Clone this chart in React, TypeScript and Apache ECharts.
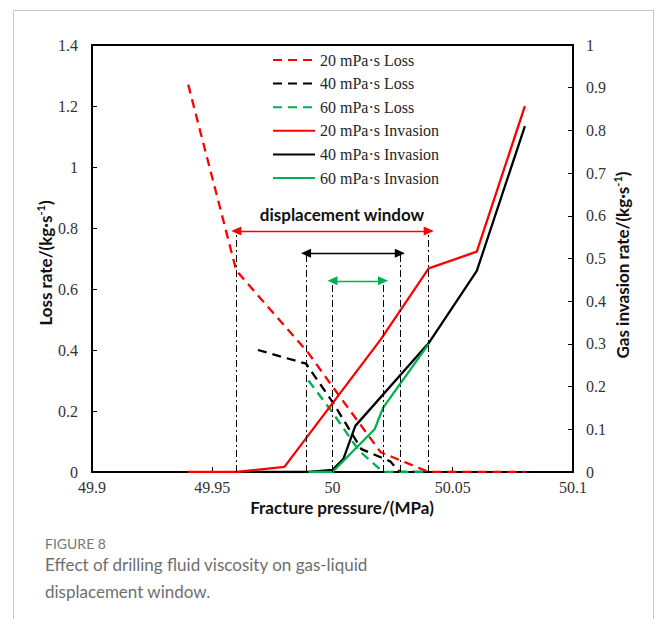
import React, { useEffect, useRef } from 'react';
import * as echarts from 'echarts';

const RED = '#ff0000';
const BLACK = '#000000';
const GREEN = '#00b050';

// Fracture pressure (MPa), Loss rate (kg/s) — left axis
const loss20 = [[49.94, 1.27], [49.96, 0.66], [49.99, 0.39], [50.0, 0.28], [50.02, 0.065], [50.04, 0], [50.06, 0], [50.08, 0]];
const loss40 = [[49.969, 0.4], [49.989, 0.355], [50.0, 0.23], [50.012, 0.075], [50.024, 0.035], [50.028, 0], [50.04, 0]];
const loss60 = [[49.99, 0.3], [50.0, 0.195], [50.011, 0.07], [50.021, 0], [50.04, 0]];

// Gas invasion rate (kg/s) — right axis
const inv20 = [[49.94, 0], [49.96, 0], [49.98, 0.012], [50.02, 0.31], [50.04, 0.477], [50.06, 0.516], [50.08, 0.857]];
const inv40 = [[49.97, 0], [49.99, 0], [50.0, 0.005], [50.0045, 0.03], [50.0095, 0.108], [50.04, 0.302], [50.06, 0.471], [50.08, 0.81]];
const inv60 = [[49.99, 0], [50.0, 0], [50.0175, 0.1], [50.021, 0.15], [50.04, 0.3]];

// Displacement windows [start, end] and arrow level (left-axis units)
const window20 = [49.96, 50.04];
const window40 = [49.989, 50.028];
const window60 = [50.0, 50.021];
const arrowLevels = [0.79, 0.717, 0.627];

const legendNames = ['20 mPa·s Loss', '40 mPa·s Loss', '60 mPa·s Loss', '20 mPa·s Invasion', '40 mPa·s Invasion', '60 mPa·s Invasion'];

const xAxisRange = [49.9, 50.1, 0.05];
const lossAxisRange = [0, 1.4, 0.2];
const invAxisRange = [0, 1, 0.1];

const fmt = (v: number) => String(Number(v.toFixed(3)));

const SERIF = '"Liberation Serif", "Times New Roman", serif';
const SANS = 'Lato, "Open Sans", sans-serif';

function windowMarks(win: number[], level: number, color: string) {
  const dashDot = { color: BLACK, width: 1, type: [7, 3, 2, 3] as any };
  return {
    silent: true,
    symbol: ['none', 'none'],
    label: { show: false },
    emphasis: { disabled: true },
    data: [
      [{ coord: [win[0], 0], lineStyle: dashDot }, { coord: [win[0], level] }],
      [{ coord: [win[1], 0], lineStyle: dashDot }, { coord: [win[1], level] }],
      [
        { coord: [win[0], level], symbol: 'triangle', symbolSize: [9, 10], lineStyle: { color, width: 1.3, type: 'solid' } },
        { coord: [win[1], level], symbol: 'triangle', symbolSize: [9, 10] },
      ],
    ],
  };
}

function lineSeries(name: string, data: number[][], color: string, dashed: boolean, yAxisIndex: number, markLine?: any) {
  const s: any = {
    name,
    type: 'line',
    data,
    yAxisIndex,
    symbol: 'none',
    showSymbol: false,
    smooth: false,
    lineStyle: { color, width: 2.3, type: dashed ? [9, 6] : 'solid' },
    itemStyle: { color },
    emphasis: { disabled: true },
    z: 3,
  };
  if (markLine) s.markLine = markLine;
  return s;
}

export default function App() {
  const ref = useRef<HTMLDivElement>(null);
  useEffect(() => {
    if (!ref.current) return;
    const chart = echarts.init(ref.current, null, { renderer: 'svg' });
    const axisLabelStyle = { fontFamily: SERIF, fontSize: 16, color: '#333' };
    const nameRich = {
      b: { fontFamily: SANS, fontWeight: 'bold', fontSize: 17, fill: '#111', lineHeight: 20 },
      s: { fontFamily: SANS, fontWeight: 'bold', fontSize: 11, fill: '#111', lineHeight: 20, verticalAlign: 'top' },
    };
    const option: any = {
      animation: false,
      backgroundColor: '#ffffff',
      grid: { left: 92, right: 83, top: 45, bottom: 147, show: true, borderColor: BLACK, borderWidth: 2, backgroundColor: 'transparent' },
      legend: {
        data: legendNames.map((n) => ({ name: n, itemStyle: { opacity: 0 } })),
        orient: 'vertical',
        left: 272,
        top: 52,
        padding: 0,
        itemWidth: 42,
        itemHeight: 14,
        itemGap: 7.6,
        itemStyle: { opacity: 0 },
        textStyle: { fontFamily: SERIF, fontSize: 16, color: '#262626' },
        selectedMode: false,
      },
      xAxis: {
        type: 'value',
        min: xAxisRange[0],
        max: xAxisRange[1],
        interval: xAxisRange[2],
        axisLine: { show: true, onZero: false, lineStyle: { color: BLACK, width: 2 } },
        axisTick: { show: true, inside: true, length: 5, lineStyle: { color: BLACK, width: 1 } },
        axisLabel: { ...axisLabelStyle, margin: 7, formatter: fmt },
        splitLine: { show: false },
      },
      yAxis: [
        {
          type: 'value',
          min: lossAxisRange[0],
          max: lossAxisRange[1],
          interval: lossAxisRange[2],
          position: 'left',
          axisLine: { show: true, onZero: false, lineStyle: { color: BLACK, width: 2 } },
          axisTick: { show: true, inside: true, length: 5, lineStyle: { color: BLACK, width: 1 } },
          axisLabel: { ...axisLabelStyle, margin: 14, formatter: fmt },
          splitLine: { show: false },
        },
        {
          type: 'value',
          min: invAxisRange[0],
          max: invAxisRange[1],
          interval: invAxisRange[2],
          position: 'right',
          axisLine: { show: true, onZero: false, lineStyle: { color: BLACK, width: 2 } },
          axisTick: { show: true, inside: true, length: 5, lineStyle: { color: BLACK, width: 1 } },
          axisLabel: { ...axisLabelStyle, margin: 13, formatter: fmt },
          splitLine: { show: false },
        },
      ],
      series: [
        lineSeries(legendNames[0], loss20, RED, true, 0, windowMarks(window20, arrowLevels[0], RED)),
        lineSeries(legendNames[1], loss40, BLACK, true, 0, windowMarks(window40, arrowLevels[1], BLACK)),
        lineSeries(legendNames[2], loss60, GREEN, true, 0, windowMarks(window60, arrowLevels[2], GREEN)),
        lineSeries(legendNames[3], inv20, RED, false, 1),
        lineSeries(legendNames[4], inv40, BLACK, false, 1),
        lineSeries(legendNames[5], inv60, GREEN, false, 1),
      ],
      graphic: [
        {
          type: 'rect',
          silent: true,
          shape: { x: 13.5, y: 10.5, width: 640, height: 700 },
          style: { fill: 'none', stroke: '#c8c8c8', lineWidth: 1 },
          z: -1,
        },
        {
          type: 'text',
          x: 45,
          y: 263,
          rotation: Math.PI / 2,
          style: { text: '{b|Loss rate/(kg·s}{s|-1}{b|)}', align: 'center', verticalAlign: 'middle', rich: nameRich },
        },
        {
          type: 'text',
          x: 622,
          y: 265,
          rotation: Math.PI / 2,
          style: { text: '{b|Gas invasion rate/(kg·s}{s|-1}{b|)}', align: 'center', verticalAlign: 'middle', rich: nameRich },
        },
        {
          type: 'text',
          x: 342,
          y: 507,
          style: { text: 'Fracture pressure/(MPa)', align: 'center', verticalAlign: 'middle', fontFamily: SANS, fontWeight: 'bold', fontSize: 17, fill: '#111' },
        },
        {
          type: 'text',
          x: 342,
          y: 214,
          style: { text: 'displacement window', align: 'center', verticalAlign: 'middle', fontFamily: SANS, fontWeight: 'bold', fontSize: 17, fill: '#111' },
        },
        {
          type: 'text',
          x: 45,
          y: 543,
          style: { text: 'FIGURE 8', align: 'left', verticalAlign: 'middle', fontFamily: SANS, fontSize: 14, fill: '#777' },
        },
        {
          type: 'text',
          x: 45,
          y: 564,
          style: { text: 'Effect of drilling fluid viscosity on gas-liquid', align: 'left', verticalAlign: 'middle', fontFamily: SANS, fontSize: 17, fill: '#6e6e6e' },
        },
        {
          type: 'text',
          x: 45,
          y: 591,
          style: { text: 'displacement window.', align: 'left', verticalAlign: 'middle', fontFamily: SANS, fontSize: 17, fill: '#6e6e6e' },
        },
      ],
    };
    chart.setOption(option);
    return () => chart.dispose();
  }, []);
  return (
    <div style={{ position: 'fixed', left: 0, top: 0, width: 656, height: 619, background: '#fff' }}>
      <div ref={ref} style={{ width: 656, height: 619 }} />
    </div>
  );
}
